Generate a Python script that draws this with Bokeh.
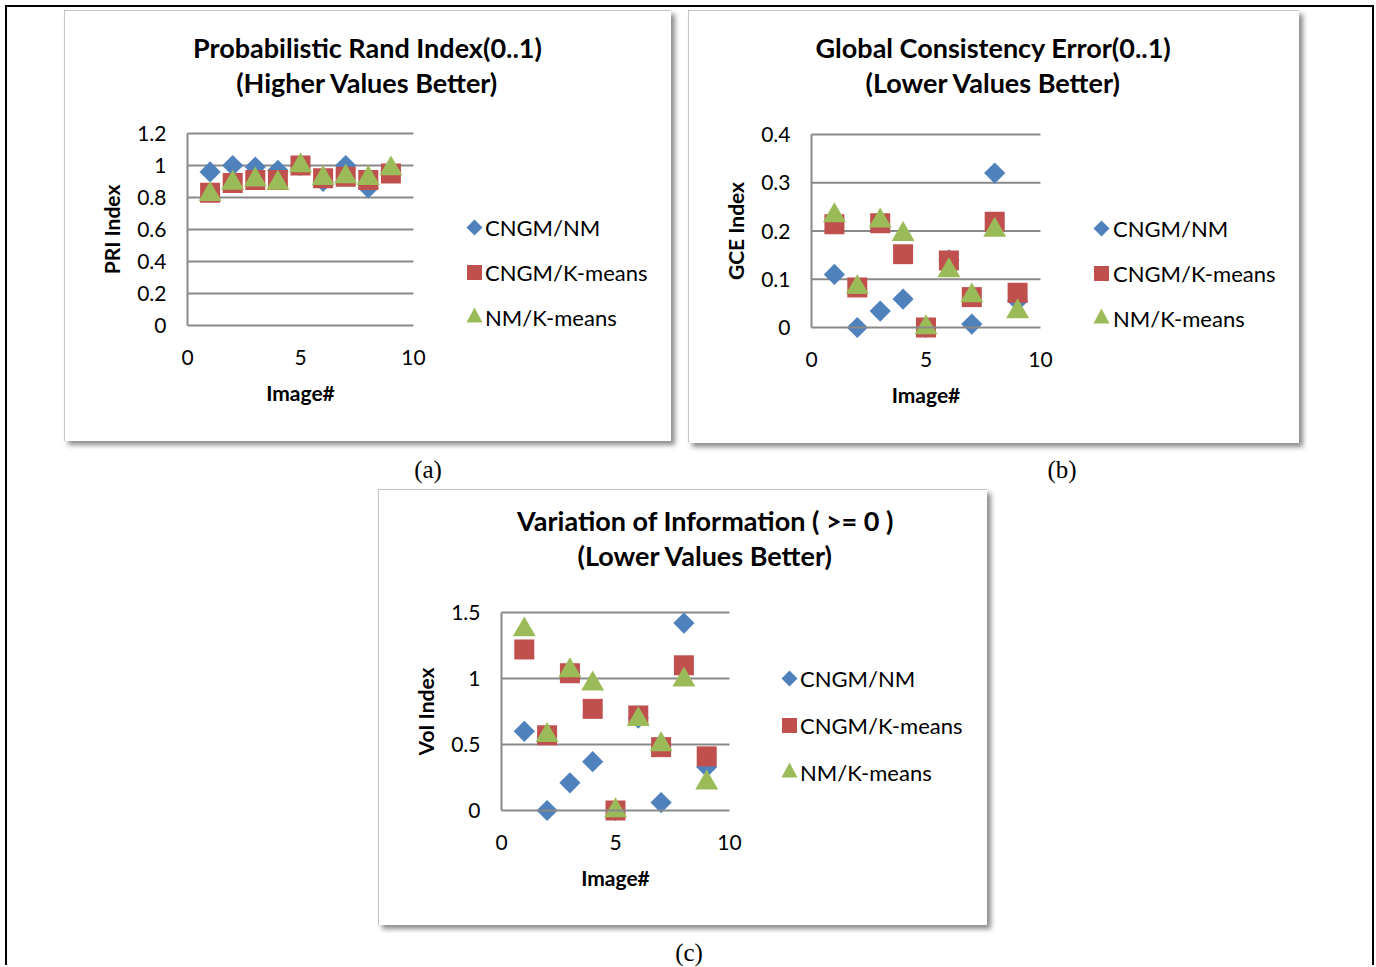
import math
from bokeh.plotting import figure
from bokeh.models import (Range1d, FixedTicker, Label, Legend, LegendItem, Spacer, Div,
                          ColumnDataSource, PolyAnnotation)
from bokeh.layouts import row, column
from bokeh.embed import file_html
from bokeh.resources import INLINE

# ---------------- data ----------------
image_no = [1, 2, 3, 4, 5, 6, 7, 8, 9]
series_names = ["CNGM/NM", "CNGM/K-means", "NM/K-means"]

pri_cngm_nm = [0.96, 1.00, 0.99, 0.97, 1.00, 0.90, 1.00, 0.86, 0.97]
pri_cngm_km = [0.83, 0.89, 0.91, 0.91, 1.00, 0.92, 0.93, 0.91, 0.95]
pri_nm_km = [0.82, 0.89, 0.91, 0.89, 1.00, 0.92, 0.93, 0.92, 0.98]

gce_cngm_nm = [0.110, 0.000, 0.034, 0.059, 0.000, 0.140, 0.007, 0.320, 0.055]
gce_cngm_km = [0.214, 0.083, 0.216, 0.152, 0.000, 0.139, 0.063, 0.219, 0.072]
gce_nm_km = [0.232, 0.083, 0.221, 0.193, 0.000, 0.118, 0.066, 0.202, 0.033]

voi_cngm_nm = [0.60, 0.00, 0.21, 0.37, 0.00, 0.70, 0.06, 1.42, 0.33]
voi_cngm_km = [1.22, 0.57, 1.04, 0.77, 0.00, 0.72, 0.48, 1.10, 0.41]
voi_nm_km = [1.37, 0.57, 1.06, 0.96, 0.00, 0.69, 0.50, 0.99, 0.21]

x_ticks = [0, 5, 10]
x_tick_labels = ["0", "5", "10"]
pri_ticks = [0, 0.2, 0.4, 0.6, 0.8, 1.0, 1.2]
pri_tick_labels = ["0", "0.2", "0.4", "0.6", "0.8", "1", "1.2"]
gce_ticks = [0, 0.1, 0.2, 0.3, 0.4]
gce_tick_labels = ["0", "0.1", "0.2", "0.3", "0.4"]
voi_ticks = [0, 0.5, 1.0, 1.5]
voi_tick_labels = ["0", "0.5", "1", "1.5"]

titles_a = ["Probabilistic Rand Index(0..1)", "(Higher Values Better)"]
titles_b = ["Global Consistency Error(0..1)", "(Lower Values Better)"]
titles_c = ["Variation of Information ( >= 0 )", "(Lower Values Better)"]
captions = ["(a)", "(b)", "(c)"]

# ---------------- styles ----------------
BLUE, RED, GREEN = "#4F81BD", "#C0504D", "#9BBB59"
GRAY = "#898989"
FONT = "Lato"


def make_chart(box, frame, ymax, yticks, ylabels, ylabel, titles, title_cx, title_ys,
               leg_x, leg_text_x, leg_y0, leg_pitch, series):
    bl, bt, bw, bh = box
    fl, ft, fr, fb = frame
    # the plotting frame covers the whole box; axes are pinned at x=0 / y=0
    xs = (fr - fl) / 10.0
    ys = (fb - ft) / float(ymax)
    x_range = Range1d(-(fl - bl) / xs, 10 + (bl + bw - fr) / xs)
    y_range = Range1d(-(bt + bh - fb) / ys, ymax + (ft - bt) / ys)
    p = figure(width=bw, height=bh, output_backend="svg", toolbar_location=None,
               title_location=None, x_range=x_range, y_range=y_range,
               min_border=0, outline_line_color=None)
    p.xgrid.visible = False
    p.ygrid.visible = False
    p.xaxis.ticker = FixedTicker(ticks=x_ticks)
    p.xaxis.major_label_overrides = dict(zip(x_ticks, x_tick_labels))
    p.yaxis.ticker = FixedTicker(ticks=yticks)
    p.yaxis.major_label_overrides = dict(zip(yticks, ylabels))
    p.xaxis.axis_label = "Image#"
    p.yaxis.axis_label = ylabel
    p.xaxis.fixed_location = 0
    p.yaxis.fixed_location = 0
    p.xaxis.bounds = (0, 10)
    p.yaxis.bounds = (0, ymax)
    for ax in p.axis:
        ax.major_tick_line_color = None
        ax.minor_tick_line_color = None
        ax.major_tick_out = 0
        ax.major_tick_in = 0
        ax.minor_tick_out = 0
        ax.minor_tick_in = 0
        ax.axis_line_color = GRAY
        ax.axis_line_width = 2
        ax.major_label_text_font = FONT
        ax.major_label_text_font_size = "21px"
        ax.major_label_text_color = "black"
        ax.axis_label_text_font = FONT
        ax.axis_label_text_font_size = "21px"
        ax.axis_label_text_font_style = "bold"
        ax.axis_label_text_color = "black"
    p.xaxis.major_label_standoff = 24
    p.xaxis.axis_label_standoff = 12
    p.yaxis.major_label_standoff = 21
    p.yaxis.axis_label_standoff = 10

    grid = ColumnDataSource(dict(y=yticks[1:], x0=[0] * (len(yticks) - 1), x1=[10] * (len(yticks) - 1)))
    p.segment(x0="x0", y0="y", x1="x1", y1="y", source=grid, line_color=GRAY, line_width=2)

    markers = [("square", math.pi / 4, 15, BLUE), ("square", 0, 20, RED), ("triangle", 0, 23, GREEN)]
    rends = []
    for (mk, ang, sz, col), vals in zip(markers, series):
        r = p.scatter(x=image_no, y=vals, marker=mk, angle=ang, size=sz,
                      fill_color=col, line_color=None)
        rends.append(r)

    # legend: text from a Legend, icons drawn as screen-space shapes
    blank = p.scatter(x=[], y=[], marker="square", fill_alpha=0, line_alpha=0)
    gw, gh = 20, 34
    leg_left = leg_text_x - gw
    leg_top = leg_y0 - gh / 2
    leg_bottom = leg_top + 3 * gh + 2 * (leg_pitch - gh)
    legend = Legend(items=[LegendItem(label=n, renderers=[blank]) for n in series_names],
                    location=(int(round(leg_left - bl)), int(round(bt + bh - leg_bottom))),
                    glyph_width=gw, glyph_height=gh, label_standoff=0,
                    spacing=leg_pitch - gh, padding=0, margin=0,
                    border_line_color=None, background_fill_alpha=0,
                    label_text_font=FONT, label_text_font_size="22px", label_text_color="black")
    p.add_layout(legend)

    def sx(px):
        return px - bl

    def sy(py):
        return bt + bh - py

    cx = leg_x
    ry = [leg_y0 + i * leg_pitch for i in range(3)]
    icons = [
        ([cx - 8, cx, cx + 8, cx], [ry[0], ry[0] - 8, ry[0], ry[0] + 8], BLUE),
        ([cx - 7.5, cx + 7.5, cx + 7.5, cx - 7.5], [ry[1] - 7.5, ry[1] - 7.5, ry[1] + 7.5, ry[1] + 7.5], RED),
        ([cx - 8, cx + 8, cx], [ry[2] + 5, ry[2] + 5, ry[2] - 10], GREEN),
    ]
    for ixs, iys, col in icons:
        p.add_layout(PolyAnnotation(xs=[sx(v) for v in ixs], ys=[sy(v) for v in iys],
                                    xs_units="screen", ys_units="screen",
                                    fill_color=col, fill_alpha=1.0, line_color=None))

    for txt, ty in zip(titles, title_ys):
        p.add_layout(Label(x=sx(title_cx), y=sy(ty), x_units="screen", y_units="screen",
                           text=txt, text_align="center", text_baseline="middle",
                           text_font=FONT, text_font_size="27px", text_font_style="bold",
                           text_color="black"))

    p.styles = {"outline": "2px solid #8e8e8e", "outline-offset": "-2px",
                "box-shadow": "4px 4px 5px rgba(0,0,0,0.45)"}
    return p


figA = make_chart(box=(64, 10, 607, 431), frame=(187, 133, 413, 325), ymax=1.2,
                  yticks=pri_ticks, ylabels=pri_tick_labels, ylabel="PRI Index",
                  titles=titles_a, title_cx=367, title_ys=(47, 82),
                  leg_x=474, leg_text_x=485, leg_y0=227, leg_pitch=45,
                  series=[pri_cngm_nm, pri_cngm_km, pri_nm_km])
figB = make_chart(box=(688, 10, 611, 433), frame=(811, 134, 1040, 327), ymax=0.4,
                  yticks=gce_ticks, ylabels=gce_tick_labels, ylabel="GCE Index",
                  titles=titles_b, title_cx=993, title_ys=(47, 82),
                  leg_x=1101, leg_text_x=1113, leg_y0=228, leg_pitch=45,
                  series=[gce_cngm_nm, gce_cngm_km, gce_nm_km])
figC = make_chart(box=(378, 489, 609, 436), frame=(501, 612, 729, 810), ymax=1.5,
                  yticks=voi_ticks, ylabels=voi_tick_labels, ylabel="VoI Index",
                  titles=titles_c, title_cx=705, title_ys=(520, 555),
                  leg_x=789, leg_text_x=800, leg_y0=678, leg_pitch=47,
                  series=[voi_cngm_nm, voi_cngm_km, voi_nm_km])


def caption(t):
    return Div(text=t, width=60, height=24, margin=0,
               styles={"font-family": "'Liberation Serif', serif", "font-size": "25px",
                       "text-align": "center", "line-height": "24px", "color": "black"})


def hs(w):
    return Spacer(width=w, height=1, margin=0)


def vs(h, w=1):
    return Spacer(width=w, height=h, margin=0)


content = column(
    vs(3, 1365),
    row(hs(57), figA, hs(17), figB),
    vs(15),
    row(hs(391), caption(captions[0]), hs(574), caption(captions[1])),
    vs(7),
    row(hs(371), figC),
    vs(16),
    row(hs(652), caption(captions[2])),
)

black = {"background-color": "black"}
framecol = column(
    Spacer(width=1369, height=2, margin=0, styles=black),
    row(Spacer(width=2, height=958, margin=0, styles=black), content,
        Spacer(width=2, height=958, margin=0, styles=black)),
)
root = column(vs(5), row(hs(5), framecol))

open("out.html", "w").write(file_html(root, INLINE))
